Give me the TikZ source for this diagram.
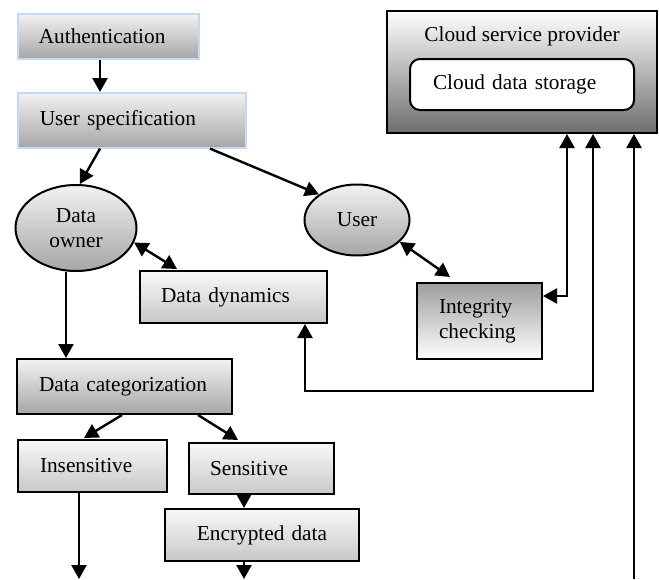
\documentclass[tikz,border=0pt]{standalone}
\usepackage[usenames,dvipsnames]{xcolor}
\usepackage{fontspec}
\setmainfont{Liberation Serif}
\usepackage{tikz}
\usetikzlibrary{arrows.meta}
\usetikzlibrary{shapes.geometric}

\definecolor{edgeblue}{HTML}{C6D9F1}
\definecolor{gtop}{HTML}{F2F2F2}
\definecolor{gbot}{HTML}{A6A6A6}
\definecolor{ltop}{HTML}{F8F8F8}
\definecolor{lbot}{HTML}{C8C8C8}
\definecolor{dbot}{HTML}{6E6E6E}

\begin{document}
\begin{tikzpicture}[x=1pt, y=-1pt,
		font=\fontsize{21.3}{24.5}\selectfont,
		arr/.style={line width=2.4pt, -{Triangle[length=14pt,width=15pt]}},
		darr/.style={line width=2.4pt, {Triangle[length=14pt,width=15pt]}-{Triangle[length=14pt,width=15pt]}},
		box/.style={draw, line width=2pt, anchor=north west, inner ysep=0pt, align=left},
		topbox/.style={box, draw=edgeblue, line width=1.6pt, top color=gtop, bottom color=gbot},
		darkbox/.style={box, top color=gtop, bottom color=gbot},
		lightbox/.style={box, top color=ltop, bottom color=lbot},
		oval/.style={ellipse, draw, line width=2pt, inner sep=0pt, align=center, top color=gtop, bottom color=gbot}
	]
		\useasboundingbox (0,0) rectangle (659,579);

		\node[topbox, text width=139pt, inner xsep=21pt, minimum height=45pt] (auth) at (17,13) {Authentication};
		\node[topbox, text width=184pt, inner xsep=22pt, minimum height=55pt] (uspec) at (17,92) {User specification};

		\node[box, top color=white, bottom color=dbot, inner sep=0pt, minimum width=270pt, minimum height=122pt,
			label={[anchor=base, inner sep=0pt, yshift=-31.5pt]north:Cloud service provider}] (csp) at (386,10) {};
		\node[box, fill=white, rounded corners=10pt, text width=178pt, inner xsep=23pt, minimum height=51pt] (cds) at (409,58) {Cloud data storage};

		\node[oval, minimum width=121pt, minimum height=86pt] (downer) at (76,228) {Data\\owner};
		\node[oval, minimum width=105pt, minimum height=71pt] (user) at (357,220) {User};

		\node[lightbox, text width=145pt, inner xsep=21pt, minimum height=52pt] (ddyn) at (139,270) {Data dynamics};
		\node[box, top color=gbot!95!black, bottom color=white, text width=81pt, inner xsep=22pt, minimum height=76pt] (integ) at (416,282) {Integrity\\checking};

		\node[darkbox, text width=171pt, inner xsep=22pt, minimum height=55pt] (dcat) at (16,358) {Data categorization};
		\node[lightbox, text width=105pt, inner xsep=22pt, minimum height=52pt] (insens) at (17,439) {Insensitive};
		\node[lightbox, text width=103pt, inner xsep=21pt, minimum height=51pt] (sens) at (188,442) {Sensitive};
		\node[lightbox, align=center, text width=150pt, inner xsep=22pt, minimum height=52pt] (encr) at (164,508) {Encrypted data};

		\draw[arr] ([xshift=83pt]auth.south west) -- ([xshift=83pt]uspec.north west);
		\draw[arr] ([xshift=83pt]uspec.south west) -- (downer.85);
		\draw[arr] ([xshift=193pt]uspec.south west) -- (user.146);

		\draw[darr] (downer.-14) -- ([xshift=38pt,yshift=1pt]ddyn.north west);
		\draw[darr] (user.-27) -- ([xshift=34pt,yshift=5pt]integ.north west);
		\draw[darr] ([xshift=181pt]csp.south west) |- ([yshift=-14pt]integ.north east);
		\draw[darr] ([xshift=207pt]csp.south west) -- ++(0,257) -| ([xshift=166pt]ddyn.south west);

		\coordinate (cspin) at (634,579);
		\draw[arr] (cspin) -- (cspin |- csp.south);

		\draw[arr] ([xshift=-10pt]downer.south) -- ([xshift=-10pt]downer.south |- dcat.north);
		\draw[arr] ([xshift=106pt]dcat.south west) -- ([xshift=67pt,yshift=1pt]insens.north west);
		\draw[arr] ([xshift=182pt]dcat.south west) -- ([xshift=50pt,yshift=2pt]sens.north west);
		\draw[arr] ([xshift=56pt]sens.south west) -- ([xshift=56pt]sens.south west |- encr.north);

		\coordinate (insout) at (79,579);
		\coordinate (encout) at (244,579);
		\draw[arr] (insens.south -| insout) -- (insout);
		\draw[arr] (encr.south -| encout) -- (encout);
\end{tikzpicture}
\end{document}
